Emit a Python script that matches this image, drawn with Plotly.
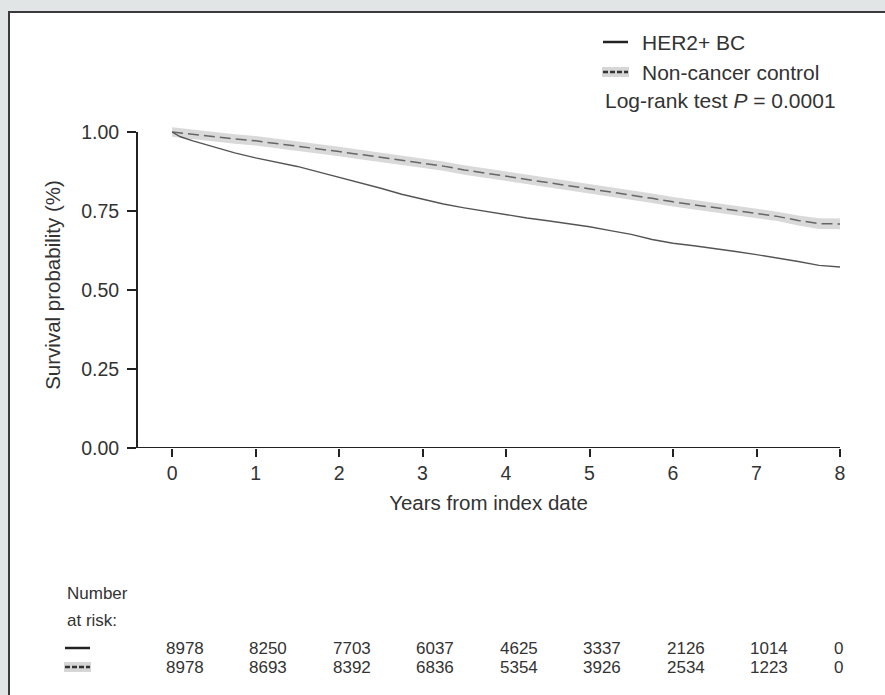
import plotly.graph_objects as go

# ---------------- data ----------------
years_her2 = [0, 0.1, 0.25, 0.5, 0.75, 1, 1.25, 1.5, 1.75, 2, 2.25, 2.5, 2.75, 3, 3.25, 3.5, 3.75,
              4, 4.25, 4.5, 4.75, 5, 5.25, 5.5, 5.75, 6, 6.25, 6.5, 6.75, 7, 7.25, 7.5, 7.75, 8]
surv_her2 = [1.00, 0.985, 0.972, 0.953, 0.934, 0.918, 0.905, 0.891, 0.874, 0.857, 0.840, 0.822,
             0.803, 0.787, 0.772, 0.760, 0.749, 0.739, 0.728, 0.719, 0.710, 0.700, 0.688, 0.676,
             0.660, 0.648, 0.640, 0.632, 0.622, 0.612, 0.602, 0.590, 0.578, 0.573]

years_ctrl = [0, 0.25, 0.5, 0.75, 1, 1.25, 1.5, 1.75, 2, 2.25, 2.5, 2.75, 3, 3.25, 3.5, 3.75,
              4, 4.25, 4.5, 4.75, 5, 5.25, 5.5, 5.75, 6, 6.25, 6.5, 6.75, 7, 7.25, 7.5, 7.75, 8]
surv_ctrl = [1.00, 0.992, 0.985, 0.978, 0.972, 0.964, 0.956, 0.947, 0.938, 0.929, 0.920, 0.910,
             0.901, 0.892, 0.880, 0.870, 0.861, 0.852, 0.842, 0.832, 0.822, 0.811, 0.801, 0.790,
             0.779, 0.770, 0.761, 0.752, 0.743, 0.733, 0.720, 0.710, 0.709]
ci_low_ctrl = [0.985, 0.977, 0.970, 0.963, 0.957, 0.949, 0.941, 0.932, 0.923, 0.914, 0.905, 0.895,
               0.886, 0.877, 0.865, 0.855, 0.846, 0.837, 0.827, 0.817, 0.807, 0.796, 0.786, 0.775,
               0.764, 0.755, 0.746, 0.737, 0.728, 0.718, 0.704, 0.693, 0.692]
ci_high_ctrl = [1.015, 1.007, 1.000, 0.993, 0.987, 0.979, 0.971, 0.962, 0.953, 0.944, 0.935, 0.925,
                0.916, 0.907, 0.895, 0.885, 0.876, 0.867, 0.857, 0.847, 0.837, 0.826, 0.816, 0.805,
                0.794, 0.785, 0.776, 0.767, 0.758, 0.748, 0.736, 0.727, 0.726]

risk_years = [0, 1, 2, 3, 4, 5, 6, 7, 8]
risk_her2 = [8978, 8250, 7703, 6037, 4625, 3337, 2126, 1014, 0]
risk_ctrl = [8978, 8693, 8392, 6836, 5354, 3926, 2534, 1223, 0]

y_ticks = [0, 0.25, 0.5, 0.75, 1.0]
y_tick_labels = ["0.00", "0.25", "0.50", "0.75", "1.00"]
x_ticks = [0, 1, 2, 3, 4, 5, 6, 7, 8]

# ---------------- layout geometry ----------------
W, H = 885, 695
L, R, T, B = 137, 840, 122, 448
FONT = "Liberation Sans, Arial, Helvetica, sans-serif"
TXT = "#333333"
FS_TICK = 19.5
FS_TITLE = 20.5
FS_LEG = 21
FS_TAB = 17


def px(x):
    return (x - L) / (R - L)


def py(y):
    return (B - y) / (B - T)


fig = go.Figure()

# CI band for control
fig.add_trace(go.Scatter(x=years_ctrl, y=ci_high_ctrl, mode="lines", line=dict(width=0),
                         hoverinfo="skip", showlegend=False))
fig.add_trace(go.Scatter(x=years_ctrl, y=ci_low_ctrl, mode="lines", line=dict(width=0),
                         fill="tonexty", fillcolor="#d9d9d9", hoverinfo="skip", showlegend=False))
# control curve
fig.add_trace(go.Scatter(x=years_ctrl, y=surv_ctrl, mode="lines", name="Non-cancer control",
                         line=dict(color="#666666", width=1.5, dash="11px,5px"),
                         showlegend=False))
# HER2+ curve
fig.add_trace(go.Scatter(x=years_her2, y=surv_her2, mode="lines", name="HER2+ BC",
                         line=dict(color="#555555", width=1.4), showlegend=False))

shapes = []
# page panel
shapes.append(dict(type="rect", xref="paper", yref="paper", x0=px(9), x1=px(W + 5), y0=py(12), y1=py(H + 5),
                   fillcolor="white", line=dict(width=0), layer="below"))
shapes.append(dict(type="line", xref="paper", yref="paper", x0=px(9), x1=px(9), y0=py(11), y1=py(H + 5),
                   line=dict(color="#3a3a3a", width=2)))
shapes.append(dict(type="line", xref="paper", yref="paper", x0=px(8), x1=px(W + 5), y0=py(12), y1=py(12),
                   line=dict(color="#3a3a3a", width=2)))
# axis lines
shapes.append(dict(type="line", xref="paper", yref="y", x0=0, x1=0, y0=0, y1=1,
                   line=dict(color="#222222", width=2)))
shapes.append(dict(type="line", xref="paper", yref="y", x0=0, x1=1, y0=0, y1=0,
                   line=dict(color="#222222", width=2)))
# legend symbols
shapes.append(dict(type="line", xref="paper", yref="paper", x0=px(603), x1=px(628), y0=py(42), y1=py(42),
                   line=dict(color="#222222", width=2.5)))
shapes.append(dict(type="rect", xref="paper", yref="paper", x0=px(602), x1=px(629), y0=py(67), y1=py(77),
                   fillcolor="#d6d6d6", line=dict(width=0)))
shapes.append(dict(type="line", xref="paper", yref="paper", x0=px(603), x1=px(628), y0=py(72), y1=py(72),
                   line=dict(color="#333333", width=2.5, dash="5px,2px")))
# number-at-risk symbols
ROW1, ROW2 = 648, 667
shapes.append(dict(type="line", xref="paper", yref="paper", x0=px(65), x1=px(90), y0=py(ROW1), y1=py(ROW1),
                   line=dict(color="#222222", width=2.5)))
shapes.append(dict(type="rect", xref="paper", yref="paper", x0=px(64), x1=px(91), y0=py(ROW2 - 5),
                   y1=py(ROW2 + 5), fillcolor="#d6d6d6", line=dict(width=0)))
shapes.append(dict(type="line", xref="paper", yref="paper", x0=px(65), x1=px(90), y0=py(ROW2), y1=py(ROW2),
                   line=dict(color="#333333", width=2.5, dash="5px,2px")))

ann = []


def text(x, y, s, size, anchor="left", xref="paper"):
    ann.append(dict(x=x, y=y, xref=xref, yref="paper", text=s, showarrow=False, xanchor=anchor,
                    yanchor="middle", font=dict(family=FONT, size=size, color=TXT)))


text(px(640), py(42), "HER2+ BC", FS_LEG)
text(px(640), py(72), "Non-cancer control", FS_LEG)
text(px(603), py(101), "Log-rank test <i>P</i> = 0.0001", FS_LEG)
text(px(65), py(593), "Number", FS_TAB)
text(px(65), py(620), "at risk:", FS_TAB)
for i, yr in enumerate(risk_years):
    xx = yr - 0.1
    text(xx, py(ROW1), str(risk_her2[i]), FS_TAB, anchor="left", xref="x")
    text(xx, py(ROW2), str(risk_ctrl[i]), FS_TAB, anchor="left", xref="x")

fig.update_layout(
    width=W, height=H,
    margin=dict(l=L, r=W - R, t=T, b=H - B, pad=0),
    paper_bgcolor="#e1e5e5",
    plot_bgcolor="rgba(0,0,0,0)",
    shapes=shapes,
    annotations=ann,
    font=dict(family=FONT, size=FS_TICK, color=TXT),
    xaxis=dict(range=[-0.42, 8], tickvals=x_ticks, ticks="outside", ticklen=8, tickwidth=2,
               tickcolor="#222222", showgrid=False, zeroline=False, showline=False,
               title=dict(text="Years from index date", standoff=12, font=dict(size=FS_TITLE)),
               tickfont=dict(size=FS_TICK)),
    yaxis=dict(range=[0, (B - T) / (448 - 132)], tickvals=y_ticks, ticktext=y_tick_labels,
               ticks="outside", ticklen=9, tickwidth=2, tickcolor="#222222", showgrid=False,
               zeroline=False, showline=False, ticklabelstandoff=4,
               title=dict(text="Survival probability (%)", standoff=14, font=dict(size=FS_TITLE)),
               tickfont=dict(size=FS_TICK)),
)

fig.write_html("out.html", config={"displayModeBar": False},
               post_script="document.body.style.margin='0';")
